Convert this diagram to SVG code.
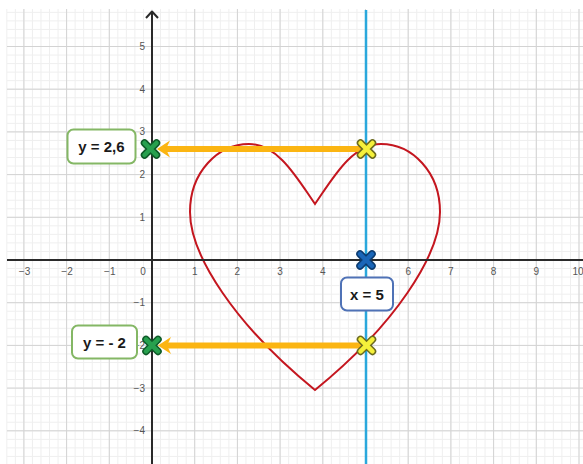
<svg xmlns="http://www.w3.org/2000/svg" width="583" height="464" viewBox="0 0 583 464">
<style>
.minor{stroke:#efefef;stroke-width:1;fill:none}
.major{stroke:#d3d3d3;stroke-width:1;fill:none}
.axis{stroke:#2a2a2a;stroke-width:2;fill:none}
.tick{font-family:"Liberation Sans",Arial,sans-serif;font-size:10px;fill:#555}
.tx{text-anchor:middle}
.ty{text-anchor:end}
.lbl{font-family:"Liberation Sans",Arial,sans-serif;font-size:15px;font-weight:bold;fill:#1a1a1a;text-anchor:middle}
.box{fill:#fff;stroke-width:2}
.arrow{stroke:#fbb512;stroke-width:6;fill:none}
.head{fill:#fbb512}
</style>
<defs>
<path id="xo" d="M-6,-6L6,6M6,-6L-6,6" stroke-width="7.5" stroke-linecap="round" fill="none"/>
<path id="xi" d="M-6,-6L6,6M6,-6L-6,6" stroke-width="4.5" stroke-linecap="round" fill="none"/>
</defs>
<rect width="583" height="464" fill="#fff"/>
<g id="grid">
<path class="minor" d="M6.82,9v455m8.54,-455v455m8.54,-455v455m8.54,-455v455m8.54,-455v455m8.54,-455v455m8.54,-455v455m8.54,-455v455m8.54,-455v455m8.54,-455v455m8.54,-455v455
m8.54,-455v455m8.54,-455v455m8.54,-455v455m8.54,-455v455m8.54,-455v455m8.54,-455v455m8.54,-455v455m8.54,-455v455m8.54,-455v455m8.54,-455v455
m8.54,-455v455m8.54,-455v455m8.54,-455v455m8.54,-455v455m8.54,-455v455m8.54,-455v455m8.54,-455v455m8.54,-455v455m8.54,-455v455m8.54,-455v455
m8.54,-455v455m8.54,-455v455m8.54,-455v455m8.54,-455v455m8.54,-455v455m8.54,-455v455m8.54,-455v455m8.54,-455v455m8.54,-455v455m8.54,-455v455
m8.54,-455v455m8.54,-455v455m8.54,-455v455m8.54,-455v455m8.54,-455v455m8.54,-455v455m8.54,-455v455m8.54,-455v455m8.54,-455v455m8.54,-455v455
m8.54,-455v455m8.54,-455v455m8.54,-455v455m8.54,-455v455m8.54,-455v455m8.54,-455v455m8.54,-455v455m8.54,-455v455m8.54,-455v455m8.54,-455v455
m8.54,-455v455m8.54,-455v455m8.54,-455v455m8.54,-455v455m8.54,-455v455m8.54,-455v455m8.54,-455v455"/>
<path class="minor" d="M7,12.34h576m-576,8.54h576m-576,8.54h576m-576,8.54h576m-576,8.54h576m-576,8.54h576m-576,8.54h576m-576,8.54h576m-576,8.54h576m-576,8.54h576m-576,8.54h576
m-576,8.54h576m-576,8.54h576m-576,8.54h576m-576,8.54h576m-576,8.54h576m-576,8.54h576m-576,8.54h576m-576,8.54h576m-576,8.54h576m-576,8.54h576
m-576,8.54h576m-576,8.54h576m-576,8.54h576m-576,8.54h576m-576,8.54h576m-576,8.54h576m-576,8.54h576m-576,8.54h576m-576,8.54h576m-576,8.54h576
m-576,8.54h576m-576,8.54h576m-576,8.54h576m-576,8.54h576m-576,8.54h576m-576,8.54h576m-576,8.54h576m-576,8.54h576m-576,8.54h576m-576,8.54h576
m-576,8.54h576m-576,8.54h576m-576,8.54h576m-576,8.54h576m-576,8.54h576m-576,8.54h576m-576,8.54h576m-576,8.54h576m-576,8.54h576m-576,8.54h576
m-576,8.54h576m-576,8.54h576"/>
<path class="major" d="M23.9,9V464M66.6,9V464M109.3,9V464M194.7,9V464M237.4,9V464M280.1,9V464M322.8,9V464M365.5,9V464M408.2,9V464M450.9,9V464M493.6,9V464M536.3,9V464M579,9V464
M7,46.5H583M7,89.2H583M7,131.9H583M7,174.6H583M7,217.3H583M7,302.7H583M7,345.4H583M7,388.1H583M7,430.8H583"/>
</g>
<g id="ticks" class="tick">
<g class="tx">
<text x="24.5" y="274.5">−3</text><text x="67" y="274.5">−2</text><text x="109.8" y="274.5">−1</text><text x="143" y="274.5">0</text>
<text x="194.7" y="274.5">1</text><text x="237.4" y="274.5">2</text><text x="280.1" y="274.5">3</text><text x="322.8" y="274.5">4</text>
<text x="408.2" y="274.5">6</text><text x="450.9" y="274.5">7</text><text x="493.6" y="274.5">8</text><text x="536.3" y="274.5">9</text><text x="578" y="274.5">10</text>
</g>
<g class="ty">
<text x="145" y="50">5</text><text x="145" y="92.7">4</text><text x="145" y="135.4">3</text><text x="145" y="178.1">2</text><text x="145" y="220.8">1</text>
<text x="145" y="306.2">−1</text><text x="145" y="348.9">−2</text><text x="145" y="391.6">−3</text><text x="145" y="434.3">−4</text>
</g>
</g>
<g id="heart">
<path d="M315,204 C333,178 352,144 381,144 C412,144 440,172 440,212 C440,255 395,325 315,390 C235,325 190,255 190,212 C190,172 218,144 249,144 C278,144 297,178 315,204 Z" fill="none" stroke="#c4161f" stroke-width="2"/>
</g>
<g id="axes">
<path class="axis" d="M7,260H583M152,12V464"/>
<path class="axis" d="M146,18L152,11.5L158,18" stroke-linejoin="round"/>
</g>
<g id="line-x5">
<path d="M366,10V464" stroke="#2aa8dc" stroke-width="2.5"/>
</g>
<g id="connectors">
<path class="arrow" d="M366,149H166"/>
<path class="head" d="M157,149L170,140.5L166,149L170,157.5Z"/>
<path class="arrow" d="M366,345.4H167"/>
<path class="head" d="M158,345.4L171,336.9L167,345.4L171,353.9Z"/>
</g>
<g id="point-green-top"><use href="#xo" x="150.5" y="149" stroke="#0e5a28"/><use href="#xi" x="150.5" y="149" stroke="#27a04e"/></g>
<g id="point-green-bottom"><use href="#xo" x="152" y="345.4" stroke="#0e5a28"/><use href="#xi" x="152" y="345.4" stroke="#27a04e"/></g>
<g id="point-yellow-top"><use href="#xo" x="366.5" y="149" stroke="#6b6a1e"/><use href="#xi" x="366.5" y="149" stroke="#f5f03a"/></g>
<g id="point-yellow-bottom"><use href="#xo" x="366.5" y="345.4" stroke="#6b6a1e"/><use href="#xi" x="366.5" y="345.4" stroke="#f5f03a"/></g>
<g id="point-blue"><use href="#xo" x="366" y="260" stroke="#0b3a6e"/><use href="#xi" x="366" y="260" stroke="#1a66b8"/></g>
<g id="label-y26">
<rect class="box" x="67.5" y="129.5" width="68" height="34" rx="6" stroke="#84b765"/>
<text class="lbl" x="101.5" y="152">y = 2,6</text>
</g>
<g id="label-y-2">
<rect class="box" x="72" y="325.5" width="65" height="33" rx="6" stroke="#84b765"/>
<text class="lbl" x="104.5" y="347.5">y = - 2</text>
</g>
<g id="label-x5">
<rect class="box" x="341" y="277.5" width="52" height="33" rx="6" stroke="#4f72b6"/>
<text class="lbl" x="367" y="299.5">x = 5</text>
</g>
</svg>
